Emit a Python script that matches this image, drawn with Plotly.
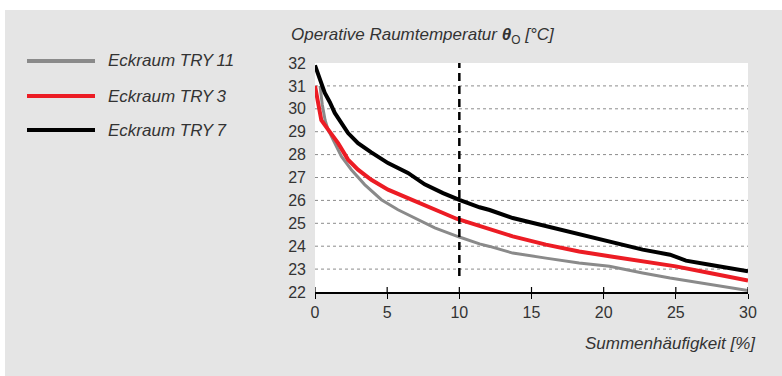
import plotly.graph_objects as go

# ---- data ----
x_try7 = [0, 0.33, 0.67, 1.02, 1.37, 2.29, 2.98, 3.9, 5.06, 6.44, 7.6, 8.87, 10.0, 11.4, 12.1, 13.7, 16.0, 18.3, 20.4, 21.0, 22.7, 24.6, 25.7, 27.35, 30]
y_try7 = [31.9, 31.27, 30.7, 30.3, 29.82, 28.94, 28.5, 28.1, 27.63, 27.2, 26.7, 26.32, 26.02, 25.7, 25.58, 25.23, 24.87, 24.5, 24.18, 24.08, 23.85, 23.63, 23.37, 23.19, 22.9]

x_try3 = [0, 0.2, 0.44, 0.9, 1.6, 2.29, 2.98, 3.9, 5.06, 6.44, 7.6, 8.87, 9.8, 11.4, 12.1, 13.7, 16.0, 18.3, 20.4, 21.0, 22.7, 25.0, 27.35, 30]
y_try3 = [31.0, 30.4, 29.5, 29.1, 28.5, 27.78, 27.34, 26.9, 26.47, 26.1, 25.81, 25.45, 25.2, 24.87, 24.72, 24.43, 24.07, 23.77, 23.56, 23.5, 23.37, 23.12, 22.83, 22.5]

x_try11 = [0.35, 0.5, 0.7, 0.9, 1.83, 2.52, 3.44, 4.6, 5.75, 6.9, 8.3, 10.0, 11.4, 12.1, 13.7, 16.0, 18.3, 20.4, 21.0, 22.7, 24.6, 27.35, 30]
y_try11 = [31.0, 30.2, 29.5, 29.1, 27.92, 27.34, 26.69, 26.03, 25.59, 25.23, 24.8, 24.4, 24.1, 23.99, 23.7, 23.48, 23.27, 23.12, 23.04, 22.83, 22.61, 22.32, 22.07]

series_names = ["Eckraum TRY\u200911", "Eckraum TRY\u20093", "Eckraum TRY\u20097"]
series_colors = ["#8a8a8a", "#ec1c24", "#000000"]

x_ticks = [0, 5, 10, 15, 20, 25, 30]
y_ticks = [22, 23, 24, 25, 26, 27, 28, 29, 30, 31, 32]
grid_vals = [23, 24, 25, 26, 27, 28, 29, 30, 31]
marker_x = 10
marker_y = [22.7, 32]

y_title = "<i>Operative Raumtemperatur </i><b><i>θ</i></b><sub>O</sub><i> [°C]</i>"
x_title = "<i>Summenhäufigkeit [%]</i>"

# ---- layout geometry ----
W, H = 782, 376
ML, MR, MT, MB = 315, 34, 63, 84
PW, PH = W - ML - MR, H - MT - MB


def px_x(p):
    return (p - ML) / PW


def px_y(p):
    return (H - MB - p) / PH


FONT = "Liberation Sans, Arial, Helvetica, sans-serif"
TXT = "#333333"

fig = go.Figure()

widths = [3, 4, 4]
for xs, ys, name, col, w in zip([x_try11, x_try3, x_try7], [y_try11, y_try3, y_try7],
                               series_names, series_colors, widths):
    fig.add_trace(go.Scatter(x=xs, y=ys, mode="lines", name=name,
                             line=dict(color=col, width=w), showlegend=False))

# dashed marker line
fig.add_trace(go.Scatter(x=[marker_x, marker_x], y=marker_y, mode="lines",
                         line=dict(color="#000000", width=2.5, dash="8px,5px"),
                         showlegend=False, hoverinfo="skip"))

shapes = []
# white strips outside grey panel
shapes.append(dict(type="rect", xref="paper", yref="paper",
                   x0=px_x(0), x1=px_x(W), y0=px_y(0), y1=px_y(10),
                   fillcolor="white", line=dict(width=0), layer="below"))
shapes.append(dict(type="rect", xref="paper", yref="paper",
                   x0=px_x(0), x1=px_x(5), y0=px_y(0), y1=px_y(H),
                   fillcolor="white", line=dict(width=0), layer="below"))
# grid lines
for g in grid_vals:
    shapes.append(dict(type="line", xref="paper", yref="y", x0=0, x1=1, y0=g, y1=g,
                       line=dict(color="#8c8c8c", width=1, dash="dot"), layer="below"))
# upward tick halves
for t in x_ticks:
    shapes.append(dict(type="line", xref="x", yref="y", ysizemode="pixel", yanchor=22,
                       x0=t, x1=t, y0=0, y1=5, line=dict(color="#000000", width=1.2)))

# legend
legend_rows = [61, 96, 130]
annotations = []
for name, col, yy in zip(series_names, series_colors, legend_rows):
    shapes.append(dict(type="line", xref="paper", yref="paper",
                       x0=px_x(27), x1=px_x(95), y0=px_y(yy), y1=px_y(yy),
                       line=dict(color=col, width=4)))
    annotations.append(dict(text="<i>" + name + "</i>", xref="paper", yref="paper",
                            x=px_x(106), y=px_y(yy), xanchor="left", yanchor="middle",
                            showarrow=False, font=dict(family=FONT, size=17, color=TXT)))

annotations.append(dict(text=y_title, xref="paper", yref="paper",
                        x=px_x(289), y=px_y(36), xanchor="left", yanchor="middle",
                        showarrow=False, font=dict(family=FONT, size=17, color=TXT)))
annotations.append(dict(text=x_title, xref="paper", yref="paper",
                        x=px_x(758), y=px_y(343), xanchor="right", yanchor="middle",
                        showarrow=False, font=dict(family=FONT, size=17, color=TXT)))

fig.update_layout(
    width=W, height=H,
    margin=dict(l=ML, r=MR, t=MT, b=MB, pad=0),
    paper_bgcolor="#e5e5e5",
    plot_bgcolor="#ffffff",
    showlegend=False,
    shapes=shapes,
    annotations=annotations,
    font=dict(family=FONT, size=16, color=TXT),
    xaxis=dict(range=[0, 30], tickvals=x_ticks, showgrid=False, zeroline=False,
               showline=True, linecolor="#000000", linewidth=1.5,
               ticks="outside", ticklen=5, tickcolor="#000000", tickwidth=1.2,
               tickfont=dict(size=16, color=TXT), ticklabelstandoff=0),
    yaxis=dict(range=[22, 32], tickvals=y_ticks, showgrid=False, zeroline=False,
               showline=False, ticks="", tickfont=dict(size=16, color=TXT),
               ticklabelstandoff=8),
)

fig.write_html("out.html")
